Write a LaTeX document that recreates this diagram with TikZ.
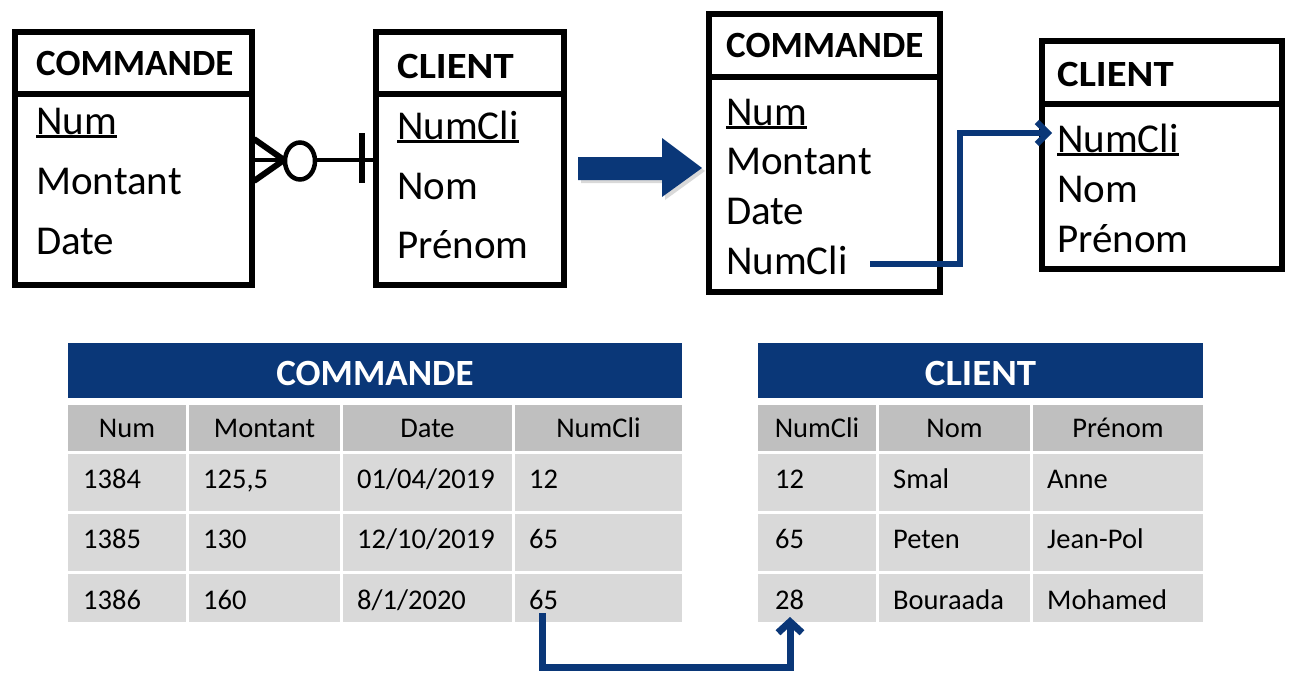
\documentclass[tikz,border=0pt]{standalone}
\usepackage{fontspec}
\setmainfont{Carlito}
\usetikzlibrary{arrows.meta}
\definecolor{navy}{HTML}{0A3778}
\definecolor{hdrgrey}{HTML}{BFBFBF}
\definecolor{rowgrey}{HTML}{D9D9D9}
\newcommand\ulx[1]{\setbox0\hbox{#1}\rlap{\rule[-0.09em]{\wd0}{0.055em}}\box0}
\tikzset{
  box/.style={draw=black,line width=6pt},
  ttl/.style={anchor=base west,inner sep=0pt,font=\fontsize{37}{40}\selectfont\bfseries},
  fld/.style={anchor=base west,inner sep=0pt,font=\fontsize{41}{44}\selectfont},
  thead/.style={anchor=base,inner sep=0pt,text=white,font=\fontsize{37}{40}\selectfont\bfseries},
  chead/.style={anchor=base,inner sep=0pt,font=\fontsize{28.5}{32}\selectfont},
  cell/.style={anchor=base west,inner sep=0pt,font=\fontsize{28.5}{32}\selectfont},
  toplink/.style={draw=navy,line join=miter,line width=6pt},
  botlink/.style={draw=navy,line join=miter,line width=7pt},
}
\begin{document}
\begin{tikzpicture}[x=1pt,y=-1pt]
\useasboundingbox (0,0) rectangle (1297,685);
% ---------- top-left ER ----------
\draw[box] (15,32) rectangle (252,285);
\draw[box] (15,94) -- (252,94);
\node[ttl] (t1) at (36,75) {COMMANDE};
\node[fld] (c1a) at (36,134) {\ulx{Num}};
\node[fld] (c1b) at (36,194) {Montant};
\node[fld] (c1c) at (36,254) {Date};
\draw[box] (376,32) rectangle (564,285);
\draw[box] (376,94) -- (564,94);
\node[ttl,xscale=1.1] (t2) at (397,78) {CLIENT};
\node[fld] (k1a) at (397,139) {\ulx{NumCli}};
\node[fld] (k1b) at (397,199) {Nom};
\node[fld] (k1c) at (397,258) {Prénom};
\coordinate (er1) at (254,160);
\coordinate (er2) at (374,160);
\draw[line width=4.5pt] (er1) -- (er2);
\draw[line width=6pt] (254,139) -- (284,160) -- (254,181);
\draw[line width=4.5pt,fill=white] (300,161) ellipse (15 and 18.5);
\draw[line width=6pt] (362,133) -- (362,183);
% ---------- big arrow ----------
\fill[black!15] (581,160) -- (665,160) -- (665,141) -- (705,171) -- (665,200) -- (665,183) -- (581,183) -- cycle;
\fill[navy] (578,157) -- (662,157) -- (662,138) -- (702,168) -- (662,197) -- (662,180) -- (578,180) -- cycle;
% ---------- top-right relational ----------
\draw[box] (709,14) rectangle (940,292);
\draw[box] (709,77) -- (940,77);
\node[ttl] (t3) at (726,57) {COMMANDE};
\node[fld] (c2a) at (726,125) {\ulx{Num}};
\node[fld] (c2b) at (726,174) {Montant};
\node[fld] (c2c) at (726,224) {Date};
\node[fld] (c2d) at (726,274) {NumCli};
\draw[box] (1042,41) rectangle (1282,269);
\draw[box] (1042,104) -- (1282,104);
\node[ttl,xscale=1.1] (t4) at (1057,86) {CLIENT};
\node[fld] (k2a) at (1057,152) {\ulx{NumCli}};
\node[fld] (k2b) at (1057,202) {Nom};
\node[fld] (k2c) at (1057,252) {Prénom};
\coordinate (fk1) at (870,264);
\coordinate (pk1) at (1052,133);
\draw[toplink,-{Straight Barb[length=11pt,width=22pt]}] (fk1) -- (960,264) -- (960,133) -- (pk1);
% ---------- bottom tables ----------
\fill[navy] (68,343) rectangle (682,398);
\node[thead] (h1) at (375,385) {COMMANDE};
\fill[navy] (758,343) rectangle (1203,398);
\node[thead,xscale=1.05] (h2) at (980.5,385) {CLIENT};
% COMMANDE header row
\fill[hdrgrey] (68,405) rectangle (186,451);
\fill[hdrgrey] (189,405) rectangle (340,451);
\fill[hdrgrey] (343,405) rectangle (512,451);
\fill[hdrgrey] (515,405) rectangle (682,451);
\node[chead] (ca) at (127,437) {Num};
\node[chead] (cb) at (264.5,437) {Montant};
\node[chead] (cc) at (427.5,437) {Date};
\node[chead] (cd) at (598.5,437) {NumCli};
% CLIENT header row
\fill[hdrgrey] (758,405) rectangle (876,451);
\fill[hdrgrey] (879,405) rectangle (1030,451);
\fill[hdrgrey] (1033,405) rectangle (1203,451);
\node[chead] (ka) at (817,437) {NumCli};
\node[chead] (kb) at (954.5,437) {Nom};
\node[chead] (kc) at (1118,437) {Prénom};
% data rows backgrounds
\foreach \ya/\yb in {454/511,514/571,574/622}{
  \fill[rowgrey] (68,\ya) rectangle (186,\yb);
  \fill[rowgrey] (189,\ya) rectangle (340,\yb);
  \fill[rowgrey] (343,\ya) rectangle (512,\yb);
  \fill[rowgrey] (515,\ya) rectangle (682,\yb);
  \fill[rowgrey] (758,\ya) rectangle (876,\yb);
  \fill[rowgrey] (879,\ya) rectangle (1030,\yb);
  \fill[rowgrey] (1033,\ya) rectangle (1203,\yb);
}
% COMMANDE data
\node[cell] (r1a) at (83,488) {1384};
\node[cell] (r1b) at (203,488) {125,5};
\node[cell] (r1c) at (357,488) {01/04/2019};
\node[cell] (r1d) at (529,488) {12};
\node[cell] (r2a) at (83,548) {1385};
\node[cell] (r2b) at (203,548) {130};
\node[cell] (r2c) at (357,548) {12/10/2019};
\node[cell] (r2d) at (529,548) {65};
\node[cell] (r3a) at (83,609) {1386};
\node[cell] (r3b) at (203,609) {160};
\node[cell] (r3c) at (357,609) {8/1/2020};
\node[cell] (r3d) at (529,609) {65};
% CLIENT data
\node[cell] (s1a) at (775,488) {12};
\node[cell] (s1b) at (893,488) {Smal};
\node[cell] (s1c) at (1047,488) {Anne};
\node[cell] (s2a) at (775,548) {65};
\node[cell] (s2b) at (893,548) {Peten};
\node[cell] (s2c) at (1047,548) {Jean-Pol};
\node[cell] (s3a) at (775,609) {28};
\node[cell] (s3b) at (893,609) {Bouraada};
\node[cell] (s3c) at (1047,609) {Mohamed};
% bottom link
\coordinate (fk2) at (542,613);
\coordinate (pk2) at (790,617);
\draw[botlink,-{Straight Barb[length=11pt,width=24pt]}] (fk2) -- (542,667) -- (790,667) -- (pk2);
\end{tikzpicture}
\end{document}
